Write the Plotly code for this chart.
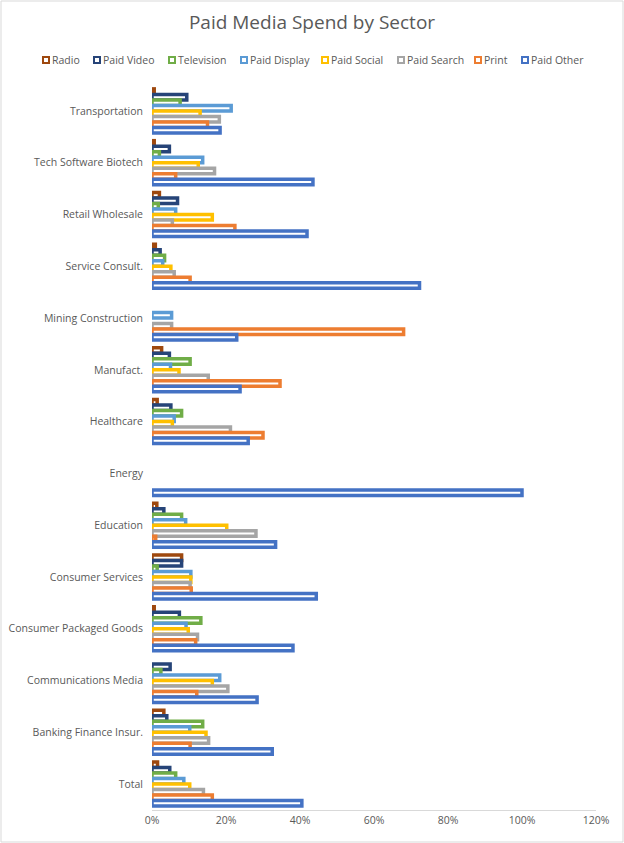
import plotly.graph_objects as go

categories = ["Transportation", "Tech Software Biotech", "Retail Wholesale", "Service Consult.",
              "Mining Construction", "Manufact.", "Healthcare", "Energy", "Education",
              "Consumer Services", "Consumer Packaged Goods", "Communications Media",
              "Banking Finance Insur.", "Total"]

series_names = ["Radio", "Paid Video", "Television", "Paid Display", "Paid Social",
                "Paid Search", "Print", "Paid Other"]

# None = no spend shown for that sector
radio        = [0.6, 0.6, 2.0, 0.9, None, 2.6, 1.4, None, 1.3, 8.0, 0.6, None, 3.2, 1.5]
paid_video   = [9.4, 4.7, 6.9, 2.2, None, 4.7, 5.1, None, 3.2, 8.0, 7.4, 4.9, 4.0, 4.8]
television   = [7.6, 2.0, 1.7, 3.4, None, 10.3, 8.0, None, 8.0, 1.4, 13.2, 2.4, 13.7, 6.4]
paid_display = [21.4, 13.7, 6.4, 2.9, 5.3, 5.0, 6.0, None, 9.1, 10.5, 9.2, 18.3, 10.2, 8.6]
paid_social  = [13.0, 12.5, 16.3, 5.1, None, 7.3, 5.5, None, 20.2, 10.5, 9.8, 16.3, 14.6, 10.2]
paid_search  = [18.2, 16.9, 5.5, 6.0, 5.3, 15.2, 21.2, None, 28.1, 10.3, 12.3, 20.5, 15.3, 13.9]
print_media  = [15.0, 6.4, 22.4, 10.3, 68.0, 34.6, 30.0, None, 1.0, 10.6, 11.8, 12.1, 10.3, 16.3]
paid_other   = [18.4, 43.5, 41.9, 72.3, 22.9, 23.8, 26.0, 100.0, 33.4, 44.4, 38.1, 28.4, 32.5, 40.5]

tick_vals = [0, 20, 40, 60, 80, 100, 120]
tick_text = ["0%", "20%", "40%", "60%", "80%", "100%", "120%"]

colors = ["#9E480E", "#264478", "#70AD47", "#5B9BD5", "#FFC000", "#A5A5A5", "#ED7D31", "#4472C4"]
all_series = [radio, paid_video, television, paid_display, paid_social, paid_search, print_media, paid_other]

# legend layout (pixel x of each legend swatch, style only)
legend_px = [43, 94, 169, 241, 322, 398, 475, 522]
legend_py = 60

fig = go.Figure()
for name, vals, col in zip(series_names, all_series, colors):
    fig.add_trace(go.Bar(
        y=categories, x=vals, name=name, orientation="h",
        marker=dict(color="white", line=dict(color=col, width=3.5)),
        showlegend=False,
    ))

W, H = 624, 843
ml, mr, mt, mb = 152, 28, 85, 33
pw, ph = W - ml - mr, H - mt - mb

def px_to_paper_x(px):
    return (px - ml) / pw

def py_to_paper_y(py):
    return 1 - (py - mt) / ph

fig.update_layout(
    width=W, height=H,
    margin=dict(l=ml, r=mr, t=mt, b=mb, autoexpand=False),
    paper_bgcolor="white", plot_bgcolor="white",
    barmode="group", bargap=0.15, bargroupgap=0,
    font=dict(family="Open Sans, sans-serif", color="#595959", size=10.5),
    title=dict(text="Paid Media Spend by Sector", x=0.5, xanchor="center",
               y=1 - 22 / H, yanchor="middle", yref="container",
               font=dict(size=19, color="#595959")),
    showlegend=False,
)
fig.update_xaxes(range=[0, 120], tickvals=tick_vals, ticktext=tick_text, automargin=False,
                 showgrid=False, zeroline=False, showline=True, linecolor="#D9D9D9",
                 ticks="", tickfont=dict(size=10.5, color="#595959"))
fig.update_yaxes(autorange="reversed", showgrid=False, zeroline=False, showline=False,
                 automargin=False, ticks="", ticklabelstandoff=8,
                 tickfont=dict(size=10.5, color="#595959"))

# manual legend: swatches + labels
for name, col, lx in zip(series_names, colors, legend_px):
    fig.add_shape(type="rect", xref="paper", yref="paper",
                  x0=px_to_paper_x(lx), x1=px_to_paper_x(lx + 6),
                  y0=py_to_paper_y(legend_py + 3), y1=py_to_paper_y(legend_py - 3),
                  line=dict(color=col, width=2), fillcolor="white")
    fig.add_annotation(text=name, xref="paper", yref="paper",
                       x=px_to_paper_x(lx + 7), y=py_to_paper_y(legend_py),
                       xanchor="left", yanchor="middle", showarrow=False,
                       font=dict(size=10.5, color="#595959"))

# chart border
fig.add_shape(type="rect", xref="paper", yref="paper",
              x0=px_to_paper_x(1), x1=px_to_paper_x(W - 1),
              y0=py_to_paper_y(H - 1), y1=py_to_paper_y(1),
              line=dict(color="#D9D9D9", width=1), fillcolor="rgba(0,0,0,0)", layer="below")

fig.write_html("out.html", config={"displayModeBar": False},
               post_script="document.body.style.margin='0';document.body.style.padding='0';")
